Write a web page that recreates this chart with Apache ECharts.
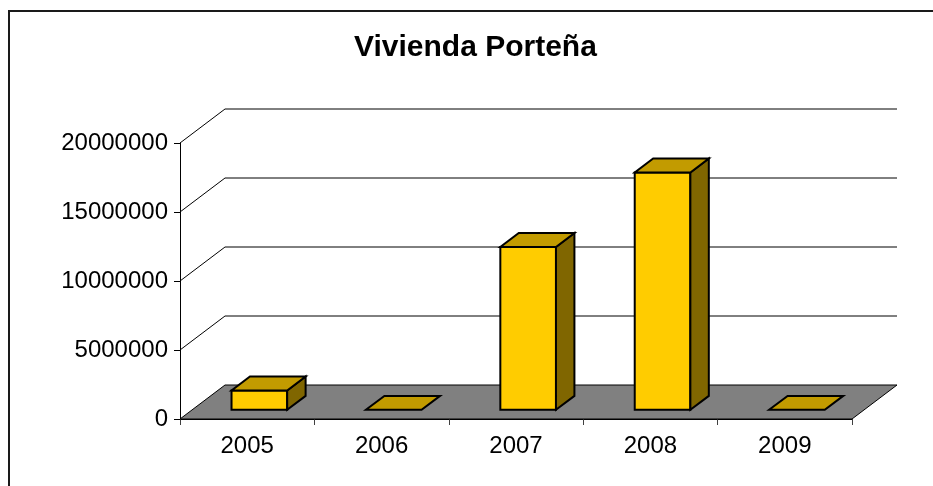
<!DOCTYPE html>
<html><head><meta charset="utf-8">
<script src="https://cdn.jsdelivr.net/npm/echarts@6/dist/echarts.min.js"></script>
<style>html,body{margin:0;padding:0;background:#fff}#c{width:933px;height:486px}</style>
</head><body><div id="c"></div>
<script>
const years = ['2005', '2006', '2007', '2008', '2009'];
const values = [1400000, 0, 11800000, 17200000, 0];
const yTicks = [0, 5000000, 10000000, 15000000, 20000000];
const titleText = 'Vivienda Porteña';

// 3D look (pixel offsets for depth)
const DX = 45, DY = -34;
const F0 = 0.27, F1 = 0.68;
const BAR_RATIO = 0.414;
const FONT = 'Liberation Sans, Arial, sans-serif';

const chart = echarts.init(document.getElementById('c'), null, {renderer: 'canvas'});

function plotBounds(api) {
  const bw = api.size([1, 0])[0];
  const left = api.coord([0, 0])[0] - bw / 2;
  const right = api.coord([years.length - 1, 0])[0] + bw / 2;
  return {bw, left, right};
}

function renderFloor(params, api) {
  const b = plotBounds(api);
  const y0 = api.coord([0, 0])[1];
  const children = [];
  children.push({
    type: 'polygon',
    shape: {points: [[b.left, y0], [b.right, y0], [b.right + DX, y0 + DY], [b.left + DX, y0 + DY]]},
    style: {fill: '#808080', stroke: '#000', lineWidth: 1}
  });
  yTicks.forEach(function (v) {
    if (v === 0) return;
    const y = api.coord([0, v])[1];
    children.push({
      type: 'polyline',
      shape: {points: [[b.left, y], [b.left + DX, y + DY], [b.right + DX, y + DY]]},
      style: {fill: null, stroke: '#000', lineWidth: 1}
    });
  });
  return {type: 'group', children: children};
}

function renderBar(params, api) {
  const i = api.value(0);
  const v = api.value(1);
  const bw = api.size([1, 0])[0];
  const base = api.coord([i, 0]);
  const top = api.coord([i, v]);
  const w = bw * BAR_RATIO;
  const ox = DX * F0, oy = DY * F0;
  const dx = DX * (F1 - F0), dy = DY * (F1 - F0);
  const xl = base[0] - w / 2 + ox, xr = base[0] + w / 2 + ox;
  const yb = base[1] + oy, yt = top[1] + oy;
  const st = {stroke: '#000', lineWidth: 2, lineJoin: 'miter'};
  const children = [];
  if (yb - yt > 0.5) {
    children.push({type: 'polygon', shape: {points: [[xl, yb], [xr, yb], [xr, yt], [xl, yt]]},
      style: Object.assign({fill: '#FFCC00'}, st)});
    children.push({type: 'polygon', shape: {points: [[xr, yb], [xr + dx, yb + dy], [xr + dx, yt + dy], [xr, yt]]},
      style: Object.assign({fill: '#806600'}, st)});
  }
  children.push({type: 'polygon', shape: {points: [[xl, yt], [xr, yt], [xr + dx, yt + dy], [xl + dx, yt + dy]]},
    style: Object.assign({fill: '#C29B00'}, st)});
  return {type: 'group', children: children};
}

chart.setOption({
  animation: false,
  backgroundColor: '#fff',
  title: {
    text: titleText, left: 349, top: 28,
    textStyle: {fontFamily: FONT, fontSize: 30, fontWeight: 'bold', color: '#000'}
  },
  graphic: [{
    type: 'rect', silent: true, z: 100,
    shape: {x: 9, y: 11, width: 960, height: 500},
    style: {fill: null, stroke: '#1a1a1a', lineWidth: 2}
  }],
  grid: {left: 180, right: 81, top: 143, bottom: 67},
  xAxis: {
    type: 'category', data: years,
    axisLine: {show: true, lineStyle: {color: '#000', width: 1}},
    axisTick: {show: true, interval: 0, length: 6, lineStyle: {color: '#404040'}},
    axisLabel: {fontFamily: FONT, fontSize: 24, color: '#000', margin: 15},
    splitLine: {show: false}
  },
  yAxis: {
    type: 'value', min: 0, max: 20000000, interval: 5000000,
    axisLine: {show: true, lineStyle: {color: '#000', width: 1}},
    axisTick: {show: true, length: 6, lineStyle: {color: '#000'}},
    axisLabel: {fontFamily: FONT, fontSize: 24, color: '#000', margin: 12, formatter: function (v) { return String(v); }},
    splitLine: {show: false}
  },
  series: [
    {type: 'custom', renderItem: renderFloor, data: [[0, 0]], clip: false, silent: true, z: 1,
      encode: {x: 0, y: 1}},
    {type: 'custom', renderItem: renderBar, data: values.map(function (v, i) { return [i, v]; }),
      clip: false, z: 3, encode: {x: 0, y: 1}}
  ]
});
</script>
</body></html>
